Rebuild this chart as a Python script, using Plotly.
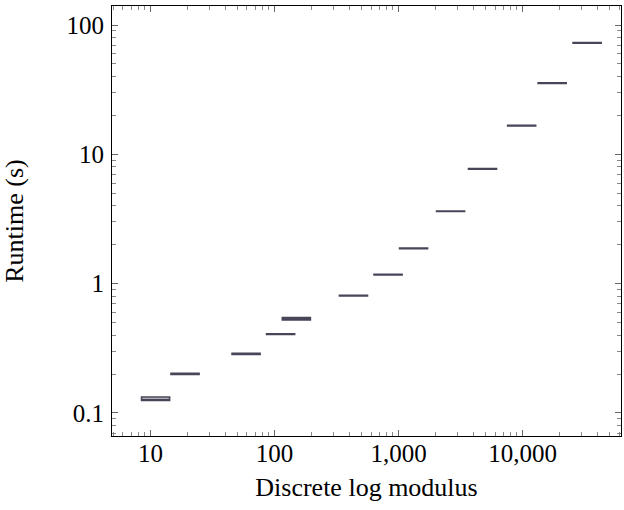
import plotly.graph_objects as go

# ---- data ----
modulus = [11, 19, 59, 112, 150, 433, 823, 1321, 2625, 4750, 9820, 17300, 33100]
q1 = [0.125, 0.199, 0.284, 0.404, 0.524, 0.803, 1.168, 1.866, 3.61, 7.67, 16.6, 35.3, 72.4]
median = [0.126, 0.201, 0.287, 0.407, 0.527, 0.807, 1.174, 1.876, 3.63, 7.71, 16.7, 35.5, 72.8]
q3 = [0.133, 0.203, 0.290, 0.410, 0.548, 0.811, 1.180, 1.886, 3.65, 7.75, 16.8, 35.7, 73.2]
lower = [0.124, 0.198, 0.283, 0.403, 0.522, 0.802, 1.166, 1.862, 3.60, 7.65, 16.55, 35.2, 72.2]
upper = [0.134, 0.204, 0.291, 0.411, 0.550, 0.812, 1.182, 1.890, 3.66, 7.77, 16.85, 35.8, 73.4]

x_tick_vals = [10, 100, 1000, 10000]
x_tick_text = ["10", "100", "1,000", "10,000"]
y_tick_vals = [0.1, 1, 10, 100]
y_tick_text = ["0.1", "1", "10", "100"]

# ---- style ----
BOX_WIDTH_DECADES = 0.226   # box width on the log x axis (plotly measures it in decades)
LINE = "#4a4458"
FONT = "Liberation Serif"

fig = go.Figure()
for i, m in enumerate(modulus):
    fig.add_trace(go.Box(
        x=[m],
        q1=[q1[i]], median=[median[i]], q3=[q3[i]],
        lowerfence=[lower[i]], upperfence=[upper[i]],
        width=BOX_WIDTH_DECADES,
        line=dict(color=LINE, width=1.6),
        fillcolor="rgba(74,68,88,0.25)",
        whiskerwidth=0,
        boxpoints=False,
        showlegend=False,
        hoverinfo="skip",
    ))

axis_common = dict(
    type="log", automargin=False,
    showline=True, linecolor="black", linewidth=1.2, mirror="allticks",
    ticks="inside", ticklen=6, tickwidth=0.8, tickcolor="#666",
    showgrid=False, zeroline=False,
    tickfont=dict(family=FONT, size=25, color="black"),
    minor=dict(ticks="inside", ticklen=3.5, tickwidth=0.8, tickcolor="#888",
               dtick="D1", showgrid=False),
)

fig.update_xaxes(**axis_common, range=[0.690, 4.793],
                 tickvals=x_tick_vals, ticktext=x_tick_text,
                 ticklabelstandoff=-5,
                 title=dict(text="Discrete log modulus",
                            font=dict(family=FONT, size=26, color="black"),
                            standoff=11))
fig.update_yaxes(**axis_common, range=[-1.178, 2.147],
                 tickvals=y_tick_vals, ticktext=y_tick_text,
                 ticklabelstandoff=2,
                 title=dict(text="Runtime (s)",
                            font=dict(family=FONT, size=26, color="black"),
                            standoff=36))

fig.update_layout(
    width=624, height=510,
    margin=dict(l=112, r=3, t=6, b=74),
    plot_bgcolor="white", paper_bgcolor="white",
    boxmode="overlay", boxgap=0, boxgroupgap=0,
)

fig.write_html("out.html", config={"displayModeBar": False},
               post_script="document.body.style.margin='0px';")
